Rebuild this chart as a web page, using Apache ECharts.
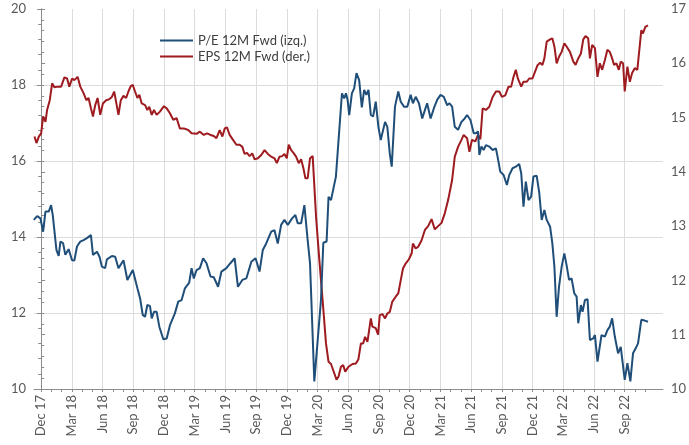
<!DOCTYPE html>
<html>
<head>
<meta charset="utf-8">
<script src="https://cdn.jsdelivr.net/npm/echarts@6/dist/echarts.min.js"></script>
<style>
  html, body { margin: 0; padding: 0; background: #fff; }
  #chart { width: 689px; height: 445px; }
</style>
</head>
<body>
<div id="chart"></div>
<script>
// x = months after end of Dec 2017
const quarterLabels = ['Dec 17', 'Mar 18', 'Jun 18', 'Sep 18', 'Dec 18', 'Mar 19', 'Jun 19', 'Sep 19', 'Dec 19', 'Mar 20',
  'Jun 20', 'Sep 20', 'Dec 20', 'Mar 21', 'Jun 21', 'Sep 21', 'Dec 21', 'Mar 22', 'Jun 22', 'Sep 22'];
const leftTicks = [10, 12, 14, 16, 18, 20];
const rightTicks = [10, 11, 12, 13, 14, 15, 16, 17];

const peData = [
  [-0.72,14.45],[-0.39,14.55],[-0.07,14.49],[0.19,14.14],[0.42,14.67],[0.74,14.67],[0.97,14.84],[1.13,14.58],[1.49,13.66],[1.71,13.5],
  [1.88,13.88],[2.14,13.84],[2.36,13.53],[2.68,13.68],[3.02,13.39],[3.24,13.38],[3.5,13.75],[3.82,13.88],[4.14,13.92],[4.47,13.97],
  [4.86,14.05],[5.06,13.53],[5.45,13.61],[5.7,13.48],[5.93,13.22],[6.25,13.18],[6.42,13.41],[6.91,13.5],[7.23,13.48],[7.55,13.18],
  [8.04,13.39],[8.42,12.87],[8.95,13.13],[9.4,12.65],[9.66,12.39],[9.92,11.95],[10.15,11.9],[10.37,12.21],[10.63,12.18],[10.8,11.86],
  [11.02,12.03],[11.28,12.03],[11.54,11.64],[11.93,11.31],[12.26,11.33],[12.58,11.68],[13.06,11.99],[13.39,12.3],[13.72,12.34],[14.04,12.65],
  [14.46,12.8],[14.69,13.18],[14.91,12.91],[15.18,13.13],[15.5,13.18],[15.82,13.44],[16.15,13.31],[16.54,12.96],[16.86,12.94],[17.28,12.69],
  [17.61,13.09],[18.09,13.18],[18.48,13.31],[18.9,13.44],[19.22,12.69],[19.65,12.87],[20.04,12.91],[20.53,13.35],[20.94,13.44],[21.33,13.09],
  [21.65,13.66],[21.98,13.83],[22.47,14.14],[22.79,14.18],[23.11,13.83],[23.44,14.32],[23.76,14.45],[24.09,14.32],[24.51,14.49],[24.83,14.58],
  [25.06,14.36],[25.39,14.36],[25.71,14.84],[26.03,13.92],[26.26,13.31],[26.68,10.2],[27.33,12.34],[27.56,13.85],[27.88,13.88],[28.07,15.06],
  [28.31,14.97],[28.79,15.59],[29.12,16.82],[29.38,17.78],[29.6,17.65],[29.77,17.78],[29.93,17.61],[30.09,17.21],[30.35,17.78],[30.57,17.91],
  [30.8,18.31],[31.06,18.13],[31.32,17.41],[31.55,17.87],[31.77,17.74],[31.97,17.87],[32.2,17.21],[32.42,17.17],[32.68,17.56],[32.94,16.9],
  [33.17,16.55],[33.59,17.03],[33.81,16.9],[34.05,16.2],[34.24,15.85],[34.56,17.43],[34.88,17.83],[35.12,17.56],[35.44,17.43],[35.76,17.43],
  [36.09,17.74],[36.31,17.52],[36.58,17.69],[36.9,17.52],[37.22,17.12],[37.48,17.34],[37.7,17.52],[38.04,17.12],[38.36,17.39],[38.68,17.61],
  [39.01,17.74],[39.33,17.69],[39.65,17.47],[39.88,17.52],[40.14,17.43],[40.4,16.9],[40.72,16.82],[41.05,17.03],[41.37,17.12],[41.6,17.21],
  [41.93,17.08],[42.25,16.73],[42.47,16.73],[42.67,16.78],[42.8,16.16],[43.0,16.38],[43.22,16.29],[43.44,16.42],[43.77,16.38],[44.1,16.29],
  [44.42,16.33],[44.61,16.07],[44.84,15.72],[45.17,15.63],[45.49,15.37],[45.72,15.63],[46.04,15.81],[46.36,15.85],[46.69,15.92],[46.89,15.68],
  [47.11,14.8],[47.34,15.46],[47.6,14.97],[47.86,15.06],[48.08,15.59],[48.4,15.61],[48.64,15.19],[48.89,14.45],[49.15,14.71],[49.38,14.45],
  [49.71,14.27],[49.93,13.83],[50.13,13.22],[50.35,11.9],[50.58,12.69],[50.84,13.22],[51.1,13.57],[51.32,13.26],[51.56,12.87],[51.81,12.91],
  [52.07,12.52],[52.3,12.43],[52.46,11.73],[52.72,12.21],[52.88,12.03],[53.11,12.34],[53.37,12.36],[53.6,11.29],[53.92,11.33],[54.09,11.42],
  [54.34,10.72],[54.73,11.42],[55.06,11.38],[55.31,11.55],[55.54,11.64],[55.77,11.86],[56.03,11.38],[56.35,10.94],[56.61,11.11],[57.0,10.24],
  [57.26,10.68],[57.55,10.2],[57.81,10.94],[58.07,11.07],[58.3,11.2],[58.62,11.82],[58.95,11.8],[59.27,11.77]
];

const epsData = [
  [-0.65,14.65],[-0.46,14.53],[-0.23,14.65],[0,14.71],[0.19,15.02],[0.42,14.92],[0.58,15.14],[0.84,15.32],[1.07,15.63],[1.29,15.56],
  [1.61,15.57],[1.95,15.57],[2.27,15.74],[2.53,15.72],[2.75,15.57],[3.02,15.72],[3.24,15.69],[3.56,15.75],[3.82,15.57],[4.14,15.45],
  [4.41,15.32],[4.63,15.36],[4.86,15.17],[5.06,15.02],[5.28,15.23],[5.51,15.36],[5.77,15.05],[6.03,15.26],[6.35,15.32],[6.67,15.34],
  [6.91,15.38],[7.13,15.48],[7.32,15.29],[7.55,15.05],[7.78,15.32],[8.04,15.4],[8.3,15.36],[8.52,15.48],[8.75,15.58],[8.95,15.6],
  [9.17,15.48],[9.4,15.36],[9.59,15.42],[9.82,15.26],[10.15,15.23],[10.37,15.14],[10.56,15.2],[10.8,15.05],[11.02,15.14],[11.28,15.05],
  [11.6,15.11],[11.99,15.21],[12.26,15.17],[12.58,15.08],[12.9,14.96],[13.23,14.99],[13.55,14.8],[13.94,14.8],[14.36,14.77],[14.69,14.71],
  [15.18,14.7],[15.5,14.74],[15.89,14.68],[16.21,14.71],[16.54,14.68],[16.86,14.66],[17.12,14.62],[17.44,14.77],[17.7,14.65],[17.93,14.8],
  [18.15,14.82],[18.41,14.68],[18.74,14.59],[19.07,14.5],[19.39,14.5],[19.65,14.46],[19.87,14.33],[20.1,14.35],[20.36,14.29],[20.62,14.34],
  [20.85,14.23],[21.17,14.25],[21.5,14.31],[21.82,14.4],[22.14,14.33],[22.47,14.28],[22.79,14.25],[23.02,14.16],[23.28,14.28],[23.54,14.29],
  [23.76,14.33],[23.99,14.25],[24.18,14.5],[24.42,14.4],[24.64,14.35],[24.9,14.28],[25.16,14.16],[25.39,14.23],[25.61,14.07],[25.81,13.88],
  [26.03,13.88],[26.26,14.25],[26.52,14.29],[26.85,13.17],[27.17,12.38],[27.49,11.64],[27.82,10.84],[28.07,10.5],[28.31,10.46],[28.63,10.29],
  [28.85,10.17],[29.05,10.23],[29.28,10.41],[29.5,10.44],[29.7,10.32],[30.02,10.41],[30.41,10.46],[30.74,10.47],[30.99,10.55],[31.23,10.84],
  [31.45,10.84],[31.64,10.96],[31.87,10.87],[32.2,11.3],[32.35,11.15],[32.68,11.12],[32.91,11.0],[33.07,11.36],[33.33,11.38],[33.59,11.3],
  [33.81,11.39],[34.05,11.42],[34.3,11.61],[34.63,11.7],[34.88,11.76],[35.12,12.0],[35.34,12.22],[35.6,12.31],[35.92,12.39],[36.19,12.5],
  [36.31,12.68],[36.58,12.59],[36.83,12.62],[37.16,12.74],[37.48,12.93],[37.8,13.0],[38.13,13.13],[38.45,12.94],[38.77,13.0],[39.11,13.06],
  [39.43,13.24],[39.75,13.48],[40.14,13.85],[40.4,14.28],[40.72,14.46],[41.05,14.59],[41.27,14.68],[41.6,14.62],[41.83,14.37],[42.08,14.59],
  [42.41,14.56],[42.67,14.68],[42.9,14.6],[43.12,15.17],[43.44,15.14],[43.77,15.2],[44.1,15.38],[44.42,15.48],[44.75,15.48],[45.0,15.38],
  [45.33,15.41],[45.65,15.57],[45.91,15.57],[46.14,15.75],[46.36,15.88],[46.56,15.72],[46.89,15.57],[47.11,15.66],[47.43,15.66],[47.67,15.72],
  [47.99,15.72],[48.25,15.85],[48.5,15.97],[48.74,16.01],[48.96,15.97],[49.15,16.09],[49.38,16.4],[49.71,16.44],[49.93,16.46],[50.13,16.31],
  [50.35,16.0],[50.58,16.12],[50.84,16.21],[51.1,16.37],[51.32,16.31],[51.65,16.21],[51.98,16.03],[52.2,15.97],[52.46,16.09],[52.72,16.18],
  [52.95,16.44],[53.17,16.5],[53.43,16.46],[53.6,16.09],[53.82,16.34],[54.09,16.28],[54.34,15.75],[54.57,16.0],[54.8,15.88],[55.06,16.06],
  [55.31,16.25],[55.54,16.21],[55.77,16.09],[55.96,15.97],[56.19,16.0],[56.42,15.88],[56.61,16.03],[56.84,16.0],[57.0,15.48],[57.26,15.94],
  [57.5,15.66],[57.72,15.82],[57.98,15.91],[58.23,15.88],[58.46,16.31],[58.62,16.61],[58.78,16.55],[59.01,16.67],[59.27,16.7]
];

const quarterPos = quarterLabels.map((_, i) => i * 3);
const monthPos = Array.from({ length: 60 }, (_, i) => i);
const font = 'Lato, "Open Sans", sans-serif';
const axisGray = '#8c8c8c';
const labelGray = '#595959';
const gridGray = '#dcdcdc';

const chart = echarts.init(document.getElementById('chart'));

chart.setOption({
  animation: false,
  backgroundColor: '#fff',
  textStyle: { fontFamily: font },
  grid: { left: 34, right: 25, top: 9, bottom: 56 },
  legend: {
    orient: 'vertical',
    left: 160,
    top: 33,
    padding: 0,
    itemGap: 1,
    itemWidth: 33,
    itemHeight: 2,
    icon: 'rect',
    textStyle: { fontSize: 13, color: '#404040', lineHeight: 15, fontFamily: font },
    data: ['P/E 12M Fwd (izq.)', 'EPS 12M Fwd (der.)']
  },
  xAxis: [
    {
      type: 'value',
      min: -0.7,
      max: 60.73,
      position: 'bottom',
      axisLine: { show: true, onZero: false, lineStyle: { color: axisGray, width: 1 } },
      axisTick: { show: true, length: 3, customValues: monthPos, lineStyle: { color: axisGray } },
      axisLabel: {
        customValues: quarterPos,
        rotate: 90,
        margin: 6,
        fontSize: 13,
        color: labelGray,
        formatter: v => quarterLabels[Math.round(v / 3)] || ''
      },
      splitLine: { show: false }
    },
    {
      // only carries the quarterly vertical grid lines
      type: 'value',
      min: -0.7,
      max: 60.73,
      position: 'bottom',
      axisLine: { show: false },
      axisTick: { show: false, customValues: quarterPos },
      axisLabel: { show: false },
      splitLine: { show: true, lineStyle: { color: gridGray, width: 1 } }
    }
  ],
  yAxis: [
    {
      type: 'value',
      min: leftTicks[0],
      max: leftTicks[leftTicks.length - 1],
      interval: 2,
      position: 'left',
      axisLine: { show: true, lineStyle: { color: axisGray } },
      axisTick: { show: true, length: 4, lineStyle: { color: axisGray } },
      minorTick: { show: true, splitNumber: 5, length: 3, lineStyle: { color: axisGray } },
      axisLabel: { fontSize: 13, color: labelGray, margin: 8 },
      splitLine: { show: true, showMinLine: false, showMaxLine: false, lineStyle: { color: gridGray, width: 1 } }
    },
    {
      type: 'value',
      min: rightTicks[0],
      max: rightTicks[rightTicks.length - 1],
      interval: 1,
      position: 'right',
      axisLine: { show: true, lineStyle: { color: axisGray } },
      axisTick: { show: true, length: 4, lineStyle: { color: axisGray } },
      minorTick: { show: true, splitNumber: 5, length: 3, lineStyle: { color: axisGray } },
      axisLabel: { fontSize: 13, color: labelGray, margin: 8 },
      splitLine: { show: false }
    }
  ],
  series: [
    {
      name: 'P/E 12M Fwd (izq.)',
      type: 'line',
      xAxisIndex: 0,
      yAxisIndex: 0,
      data: peData,
      showSymbol: false,
      symbol: 'none',
      color: '#1F4E79',
      lineStyle: { width: 2, color: '#1F4E79' },
      z: 3
    },
    {
      name: 'EPS 12M Fwd (der.)',
      type: 'line',
      xAxisIndex: 0,
      yAxisIndex: 1,
      data: epsData,
      showSymbol: false,
      symbol: 'none',
      color: '#9E1B20',
      lineStyle: { width: 2, color: '#9E1B20' },
      z: 2
    }
  ]
});
</script>
</body>
</html>
